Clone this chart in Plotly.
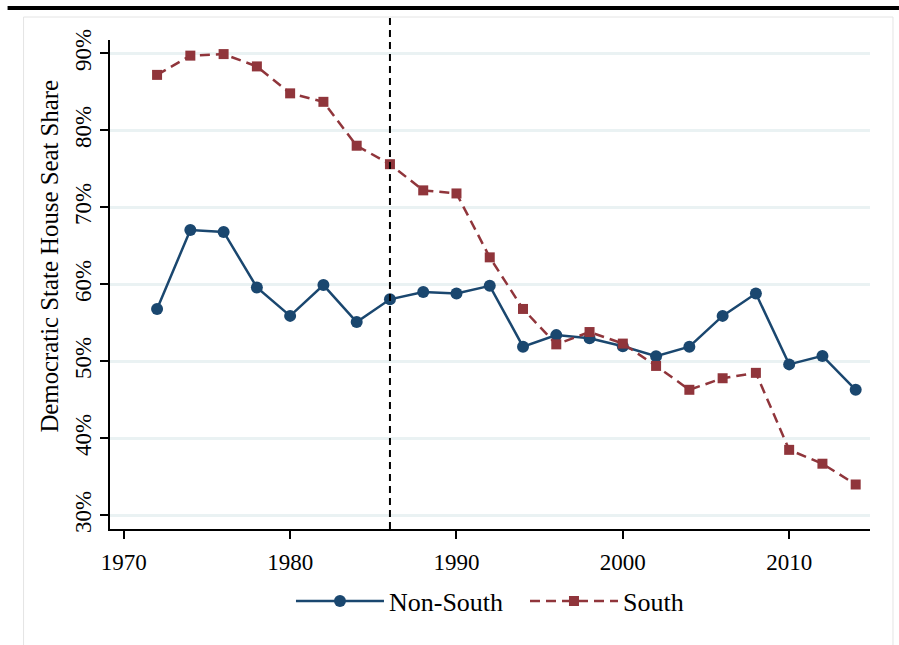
import plotly.graph_objects as go

years = [1972, 1974, 1976, 1978, 1980, 1982, 1984, 1986, 1988, 1990, 1992,
         1994, 1996, 1998, 2000, 2002, 2004, 2006, 2008, 2010, 2012, 2014]
non_south = [56.8, 67.05, 66.8, 59.6, 55.9, 59.9, 55.1, 58.05, 59.0, 58.8, 59.8,
             51.9, 53.4, 53.0, 51.95, 50.65, 51.9, 55.9, 58.8, 49.6, 50.7, 46.3]
south = [87.2, 89.7, 89.9, 88.3, 84.8, 83.7, 78.0, 75.6, 72.2, 71.8, 63.5,
         56.8, 52.2, 53.8, 52.3, 49.4, 46.3, 47.8, 48.5, 38.5, 36.7, 34.0]
x_ticks = [1970, 1980, 1990, 2000, 2010]
y_ticks = [30, 40, 50, 60, 70, 80, 90]
y_tick_labels = ["30%", "40%", "50%", "60%", "70%", "80%", "90%"]
cutoff_year = 1986

NAVY = "#1a476f"
MAROON = "#90353b"
FONT = "Liberation Serif"

W, H = 899, 645
L, R, T, B = 109.5, 29, 40, 116
pw, ph = W - L - R, H - T - B


def px_x(p):
    return (p - L) / pw


def px_y(p):
    return (H - B - p) / ph


fig = go.Figure()
fig.add_trace(go.Scatter(
    x=years, y=non_south, name="Non-South", mode="lines+markers",
    line=dict(color=NAVY, width=2.5),
    marker=dict(symbol="circle", size=12, color=NAVY),
))
fig.add_trace(go.Scatter(
    x=years, y=south, name="South", mode="lines+markers",
    line=dict(color=MAROON, width=2.5, dash="10px,6px"),
    marker=dict(symbol="square", size=10, color=MAROON),
))

shapes = [
    # outer panel border
    dict(type="rect", xref="paper", yref="paper",
         x0=px_x(23), x1=px_x(893), y0=px_y(680), y1=px_y(17),
         line=dict(color="#e4e4e4", width=1), fillcolor="rgba(0,0,0,0)", layer="below"),
    # top black bar
    dict(type="line", xref="paper", yref="paper",
         x0=px_x(7), x1=px_x(899), y0=px_y(8), y1=px_y(8),
         line=dict(color="black", width=4)),
    # vertical dashed reference line
    dict(type="line", xref="x", yref="paper",
         x0=cutoff_year, x1=cutoff_year, y0=0, y1=px_y(18),
         line=dict(color="black", width=2, dash="7px,5px")),
]

fig.update_layout(
    width=W, height=H,
    margin=dict(l=L, r=R, t=T, b=B, autoexpand=False),
    paper_bgcolor="white", plot_bgcolor="white",
    font=dict(family=FONT, color="black", size=23),
    showlegend=True,
    legend=dict(orientation="h", x=0.5 + 35 / pw, xanchor="center",
                y=px_y(601), yanchor="middle",
                font=dict(family=FONT, size=26),
                itemwidth=88, entrywidth=131,
                bgcolor="rgba(0,0,0,0)"),
    shapes=shapes,
    annotations=[
        dict(text="Democratic State House Seat Share", xref="paper", yref="paper",
             x=px_x(48), y=px_y(256), textangle=-90, showarrow=False,
             xanchor="center", yanchor="middle",
             font=dict(family=FONT, size=24.8, color="black")),
    ],
    xaxis=dict(range=[1969.17, 2014.86], tickmode="array", tickvals=x_ticks,
               showgrid=False, zeroline=False,
               showline=True, linecolor="black", linewidth=1.5,
               ticks="outside", ticklen=8, tickwidth=1.5, tickcolor="black",
               ticklabelstandoff=4,
               tickfont=dict(family=FONT, size=23)),
    yaxis=dict(range=[28.22, 91.73], tickmode="array", tickvals=y_ticks,
               ticktext=y_tick_labels, tickangle=-90,
               showgrid=True, gridcolor="#eaf2f3", gridwidth=2.5,
               zeroline=False,
               showline=True, linecolor="black", linewidth=1.5,
               ticks="outside", ticklen=8, tickwidth=1.5, tickcolor="black",
               tickfont=dict(family=FONT, size=23)),
)

fig.write_html("out.html", config={"displayModeBar": False},
               post_script="document.body.style.margin='0px';")
